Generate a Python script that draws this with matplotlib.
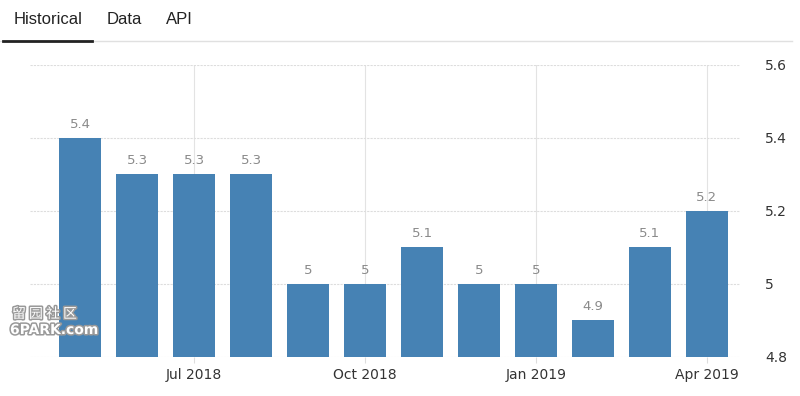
import matplotlib.pyplot as plt
import matplotlib.patheffects as pe

months = ['May 2018', 'Jun 2018', 'Jul 2018', 'Aug 2018', 'Sep 2018', 'Oct 2018',
          'Nov 2018', 'Dec 2018', 'Jan 2019', 'Feb 2019', 'Mar 2019', 'Apr 2019']
values = [5.4, 5.3, 5.3, 5.3, 5.0, 5.0, 5.1, 5.0, 5.0, 4.9, 5.1, 5.2]
value_labels = ['5.4', '5.3', '5.3', '5.3', '5', '5', '5.1', '5', '5', '4.9', '5.1', '5.2']
tick_months = ['Jul 2018', 'Oct 2018', 'Jan 2019', 'Apr 2019']
y_ticks = [4.8, 5.0, 5.2, 5.4, 5.6]
y_tick_labels = ['4.8', '5', '5.2', '5.4', '5.6']

fig = plt.figure(figsize=(8, 3.96), dpi=100)
ax = fig.add_axes([0.0375, 0.0985, 0.8875, 0.7374])

x = list(range(len(months)))
base = 4.8
ax.bar(x, [v - base for v in values], bottom=base, width=0.74, color='#4682b4', zorder=3)
for xi, v, lab in zip(x, values, value_labels):
    ax.text(xi, v + 0.02, lab, ha='center', va='bottom', color='#8a8a8a', fontsize=9.5,
            family='DejaVu Sans', zorder=4)

ax.set_xlim(-0.88, 11.58)
ax.set_ylim(4.8, 5.6)

tick_pos = [months.index(m) for m in tick_months]
ax.set_xticks(tick_pos)
ax.set_xticklabels(tick_months, fontsize=10, color='#333333', family='DejaVu Sans')
ax.set_yticks(y_ticks)
ax.set_yticklabels(y_tick_labels, fontsize=10, color='#333333', family='DejaVu Sans')
ax.yaxis.tick_right()
ax.tick_params(axis='y', length=0, pad=18)
ax.tick_params(axis='x', length=4, color='#dddddd', pad=4)

ax.grid(axis='y', color='#dddddd', linestyle=(0, (2, 1)), linewidth=0.8, zorder=0)
ax.grid(axis='x', color='#e3e3e3', linestyle='-', linewidth=0.8, zorder=0)
for s in ax.spines.values():
    s.set_visible(False)

# tabs header
for label, xpos in [('Historical', 14), ('Data', 107), ('API', 166)]:
    fig.text(xpos / 800, 1 - 19 / 396, label, fontsize=12, color='#222222',
             family='Liberation Sans', va='center')
fig.add_artist(plt.Line2D([0, 0.99], [1 - 41 / 396] * 2, color='#e0e0e0', linewidth=1))
fig.add_artist(plt.Line2D([3 / 800, 92 / 800], [1 - 41 / 396] * 2, color='#222222', linewidth=2))

# watermark
wm = [pe.withStroke(linewidth=2.2, foreground='#999999')]
fig.text(12 / 800, 1 - 314 / 396, '留 园 社 区', fontsize=10, color='white',
         family=['Noto Sans CJK SC', 'DejaVu Sans'], va='center', path_effects=wm)
fig.text(10 / 800, 1 - 330 / 396, '6PARK.com', fontsize=10, color='white',
         family='DejaVu Sans', weight='bold', va='center', path_effects=wm)

fig.savefig('out.png', dpi=100)
